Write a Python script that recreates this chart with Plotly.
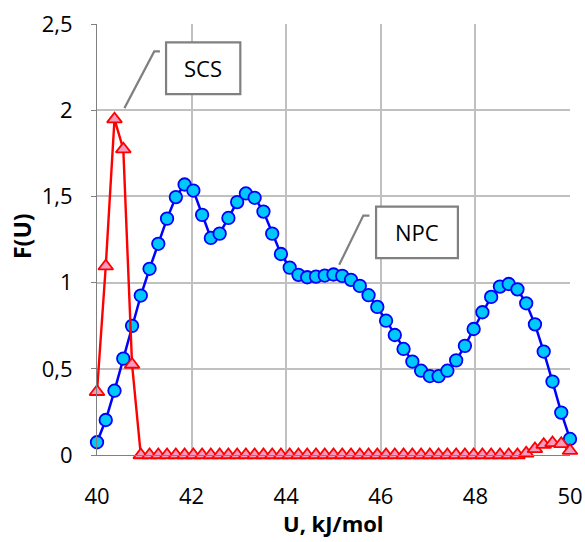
import plotly.graph_objects as go

# x positions (U, kJ/mol): 55 equally spaced samples from 40 to 50
u_values = [40.0, 40.185, 40.370, 40.556, 40.741, 40.926, 41.111, 41.296, 41.481, 41.667,
            41.852, 42.037, 42.222, 42.407, 42.593, 42.778, 42.963, 43.148, 43.333, 43.519,
            43.704, 43.889, 44.074, 44.259, 44.444, 44.630, 44.815, 45.0, 45.185, 45.370,
            45.556, 45.741, 45.926, 46.111, 46.296, 46.481, 46.667, 46.852, 47.037, 47.222,
            47.407, 47.593, 47.778, 47.963, 48.148, 48.333, 48.519, 48.704, 48.889, 49.074,
            49.259, 49.444, 49.630, 49.815, 50.0]

npc = [0.074, 0.203, 0.373, 0.559, 0.749, 0.925, 1.080, 1.225, 1.371, 1.496,
       1.569, 1.534, 1.393, 1.259, 1.284, 1.375, 1.467, 1.517, 1.492, 1.412,
       1.284, 1.166, 1.087, 1.045, 1.031, 1.035, 1.041, 1.047, 1.039, 1.016,
       0.981, 0.927, 0.859, 0.779, 0.696, 0.615, 0.542, 0.489, 0.458, 0.457,
       0.489, 0.549, 0.633, 0.731, 0.828, 0.917, 0.977, 0.992, 0.961, 0.880,
       0.758, 0.600, 0.426, 0.246, 0.093]

scs = [0.367, 1.095, 1.948, 1.774, 0.525, 0.0, 0.0, 0.0, 0.0, 0.0,
       0.0, 0.0, 0.0, 0.0, 0.0, 0.0, 0.0, 0.0, 0.0, 0.0,
       0.0, 0.0, 0.0, 0.0, 0.0, 0.0, 0.0, 0.0, 0.0, 0.0,
       0.0, 0.0, 0.0, 0.0, 0.0, 0.0, 0.0, 0.0, 0.0, 0.0,
       0.0, 0.0, 0.0, 0.0, 0.0, 0.0, 0.0, 0.0, 0.0, 0.01,
       0.035, 0.06, 0.07, 0.065, 0.025]

x_ticks = [40, 42, 44, 46, 48, 50]
y_ticks = [0, 0.5, 1, 1.5, 2, 2.5]
y_tick_text = ["0", "0,5", "1", "1,5", "2", "2,5"]

FONT = "Open Sans, Lato, DejaVu Sans, sans-serif"
GRAY = "#808080"
GRID = "#c0c0c0"

fig = go.Figure()
fig.add_trace(go.Scatter(
    x=u_values, y=npc, mode="lines+markers", name="NPC",
    line=dict(color="#0000ff", width=2.5),
    marker=dict(symbol="circle", size=12.5, color="#00c8f8",
                line=dict(color="#0000ff", width=1.8)),
    cliponaxis=False,
))
fig.add_trace(go.Scatter(
    x=u_values, y=scs, mode="lines+markers", name="SCS",
    line=dict(color="#ff0000", width=2.4),
    marker=dict(symbol="triangle-up", size=13, color="#f79ac0",
                line=dict(color="#ff0000", width=1.8)),
    cliponaxis=False,
))

# Callout boxes and leader lines
shapes = [
    dict(type="rect", xref="x", yref="y", x0=41.46, x1=43.03, y0=2.093, y1=2.393,
         line=dict(color=GRAY, width=2.2), fillcolor="white", layer="above"),
    dict(type="path", xref="x", yref="y",
         path="M 41.33 2.341 L 41.21 2.341 L 40.58 2.012",
         line=dict(color=GRAY, width=2.2), layer="above"),
    dict(type="rect", xref="x", yref="y", x0=45.90, x1=47.63, y0=1.142, y1=1.441,
         line=dict(color=GRAY, width=2.2), fillcolor="white", layer="above"),
    dict(type="path", xref="x", yref="y",
         path="M 45.76 1.389 L 45.63 1.389 L 45.12 1.103",
         line=dict(color=GRAY, width=2.2), layer="above"),
]
annotations = [
    dict(x=42.245, y=2.243, xref="x", yref="y", text="SCS", showarrow=False,
         font=dict(family=FONT, size=22, color="black")),
    dict(x=46.765, y=1.291, xref="x", yref="y", text="NPC", showarrow=False,
         font=dict(family=FONT, size=22, color="black")),
    # axis titles
    dict(x=0.499, y=-0.157, xref="paper", yref="paper", text="<b>U, kJ/mol</b>",
         showarrow=False, xanchor="center", yanchor="middle",
         font=dict(family=FONT, size=22, color="black")),
    dict(x=-0.1586, y=0.508, xref="paper", yref="paper", text="<b>F(U)</b>",
         showarrow=False, xanchor="center", yanchor="middle", textangle=-90,
         font=dict(family=FONT, size=23, color="black")),
]

fig.update_layout(
    width=585, height=542,
    margin=dict(l=97, r=15, t=24, b=87),
    paper_bgcolor="white", plot_bgcolor="white",
    showlegend=False,
    shapes=shapes, annotations=annotations,
    font=dict(family=FONT, size=22, color="black"),
)
fig.update_xaxes(
    range=[40, 50], tickvals=x_ticks, ticktext=[str(v) for v in x_ticks],
    showgrid=True, gridcolor=GRID, gridwidth=2,
    showline=True, linecolor=GRAY, linewidth=1, zeroline=False,
    ticks="", ticklabelstandoff=22, automargin=False,
    tickfont=dict(family=FONT, size=22),
)
fig.update_yaxes(
    range=[0, 2.5], tickvals=y_ticks, ticktext=y_tick_text,
    showgrid=True, gridcolor=GRID, gridwidth=2,
    showline=True, linecolor=GRAY, linewidth=1, zeroline=False,
    ticks="outside", ticklen=5, tickcolor=GRAY, ticklabelstandoff=14,
    automargin=False,
    tickfont=dict(family=FONT, size=22),
)

fig.write_html("out.html")
